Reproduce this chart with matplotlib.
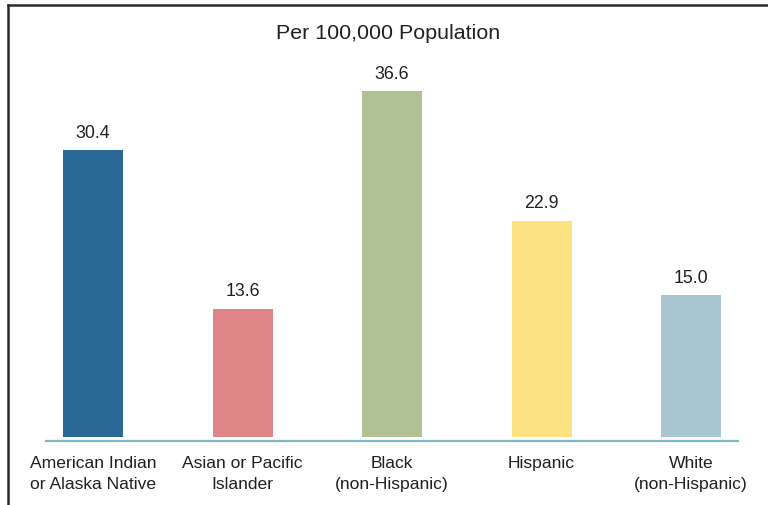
import matplotlib
matplotlib.use("Agg")
import matplotlib.pyplot as plt
from matplotlib.lines import Line2D

categories = ["American Indian\nor Alaska Native", "Asian or Pacific\nIslander",
              "Black\n(non-Hispanic)", "Hispanic", "White\n(non-Hispanic)"]
values = [30.4, 13.6, 36.6, 22.9, 15.0]
colors = ["#2a6898", "#de8587", "#b0c294", "#fde282", "#a9c5d1"]
title = "Per 100,000 Population"

plt.rcParams['font.family'] = ['Liberation Sans', 'DejaVu Sans']
TXT = "#231f20"

W, H = 768, 506
fig = plt.figure(figsize=(W / 100, H / 100), dpi=100)
ax = fig.add_axes([0, 0, 1, 1])
ax.set_axis_off()

step = 149.5  # px per category
ppu = 9.44    # px per unit value
x0 = 93       # px of first center
y0 = 438      # px of bar base (from top)
ax.set_xlim(-x0 / step, (W - x0) / step)
ax.set_ylim(-(H - y0) / ppu, y0 / ppu)

xs = list(range(len(values)))
ax.bar(xs, values, width=60 / step, color=colors, zorder=2)

for x, v in zip(xs, values):
    ax.annotate(f"{v:.1f}", (x, v), xytext=(0, 6.8), textcoords="offset points",
                ha="center", va="bottom", fontsize=12.8, color=TXT)

for x, c in zip(xs, categories):
    ax.text(x, -(456 - y0) / ppu, c, ha="center", va="top", fontsize=12.6,
            color=TXT, linespacing=1.5)

# baseline
ax.plot([(45 - x0) / step, (739 - x0) / step], [-4 / ppu, -4 / ppu],
        color="#7fb6c8", lw=1.6, zorder=3, solid_capstyle="butt")

fig.text(388 / W, 1 - 33.5 / H, title, ha="center", va="center", fontsize=15.4, color=TXT)

# frame (left and top)
fig.add_artist(Line2D([8 / W, 8 / W], [0, 1 - 6 / H], transform=fig.transFigure,
                      color="#2b2a2a", lw=1.8, solid_capstyle="projecting"))
fig.add_artist(Line2D([8 / W, 1], [1 - 6 / H, 1 - 6 / H], transform=fig.transFigure,
                      color="#2b2a2a", lw=1.8, solid_capstyle="projecting"))

fig.savefig("out.png", dpi=100)
